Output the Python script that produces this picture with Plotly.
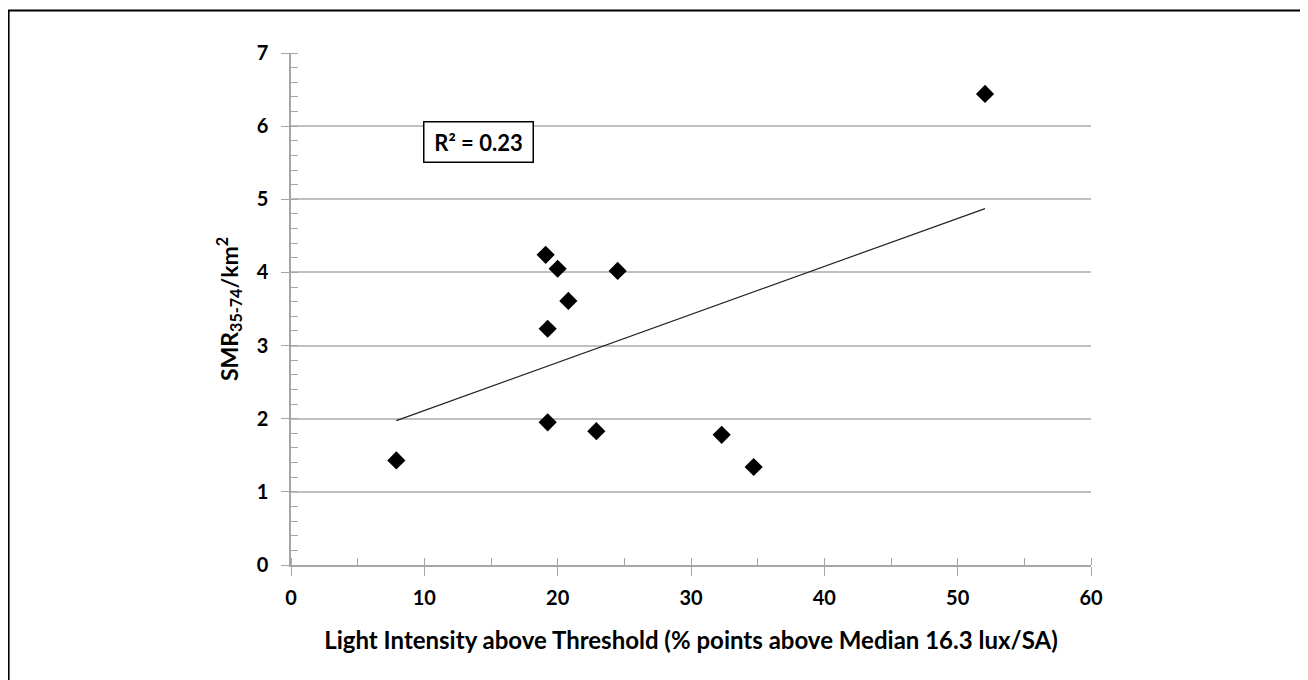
import numpy as np
import plotly.graph_objects as go

# Data
light_intensity = [7.9, 19.1, 19.25, 19.25, 20.0, 20.8, 22.9, 24.5, 32.3, 34.7, 52.05]
smr_per_km2 = [1.43, 4.24, 3.23, 1.95, 4.05, 3.61, 1.83, 4.02, 1.78, 1.34, 6.44]
x_ticks = [0, 10, 20, 30, 40, 50, 60]
y_ticks = [0, 1, 2, 3, 4, 5, 6, 7]

x = np.array(light_intensity)
y = np.array(smr_per_km2)
slope, intercept = np.polyfit(x, y, 1)
fit_x = np.array([x.min(), x.max()])
fit_y = slope * fit_x + intercept
pred = slope * x + intercept
r2 = 1 - np.sum((y - pred) ** 2) / np.sum((y - y.mean()) ** 2)

FONT = "Lato"
AXIS_GRAY = "#a6a6a6"
GRID_GRAY = "#bfbfbf"

fig = go.Figure()
fig.add_trace(go.Scatter(
    x=fit_x, y=fit_y, mode="lines",
    line=dict(color="#222222", width=1.2),
    showlegend=False, hoverinfo="skip",
))
fig.add_trace(go.Scatter(
    x=light_intensity, y=smr_per_km2, mode="markers",
    marker=dict(symbol="diamond", size=14, color="black", line=dict(width=0)),
    showlegend=False,
))

fig.update_layout(
    width=1308, height=680,
    margin=dict(l=283, r=225, t=45, b=123, pad=0),
    paper_bgcolor="white", plot_bgcolor="white",
    font=dict(family=FONT, color="black"),
    xaxis=dict(
        range=[0, 60], tickvals=x_ticks, ticktext=[str(v) for v in x_ticks],
        showline=True, linecolor=AXIS_GRAY, linewidth=1.5,
        ticks="outside", ticklen=9, tickcolor=AXIS_GRAY, tickwidth=1,
        minor=dict(ticks="inside", dtick=5, ticklen=7, tickcolor=AXIS_GRAY, showgrid=False),
        showgrid=False, zeroline=False,
        tickfont=dict(family=FONT, size=20, weight="bold", color="black"),
        ticklabelstandoff=5,
        title=dict(text="Light Intensity above Threshold (% points above Median 16.3 lux/SA)",
                   font=dict(family=FONT, size=24, weight="bold", color="black"),
                   standoff=24),
    ),
    yaxis=dict(
        range=[0, 7], tickvals=y_ticks, ticktext=[str(v) for v in y_ticks],
        showline=True, linecolor=AXIS_GRAY, linewidth=1.5,
        ticks="outside", ticklen=8, tickcolor=AXIS_GRAY, tickwidth=1,
        minor=dict(ticks="inside", dtick=0.2, ticklen=7, tickcolor=AXIS_GRAY, showgrid=False),
        showgrid=True, gridcolor=GRID_GRAY, gridwidth=1.5,
        zeroline=False,
        tickfont=dict(family=FONT, size=20, weight="bold", color="black"),
        ticklabelstandoff=9,
        title=dict(text="SMR<sub>35-74</sub>/km<sup>2</sup>",
                   font=dict(family=FONT, size=23, weight="bold", color="black"),
                   standoff=12),
    ),
    annotations=[dict(
        xref="paper", yref="paper", x=0.234, y=0.826,
        xanchor="center", yanchor="middle",
        text=f"R² = {r2:.2f}", showarrow=False,
        font=dict(family=FONT, size=22, weight="bold", color="black"),
        bordercolor="black", borderwidth=1.5, borderpad=2,
        bgcolor="white", width=104, height=35,
    )],
    shapes=[dict(
        type="rect", xref="paper", yref="paper",
        x0=-0.353, x1=1.4, y0=-0.4, y1=1.083,
        line=dict(color="black", width=2), fillcolor="rgba(0,0,0,0)",
        layer="above",
    )],
)

fig.write_html("out.html")
